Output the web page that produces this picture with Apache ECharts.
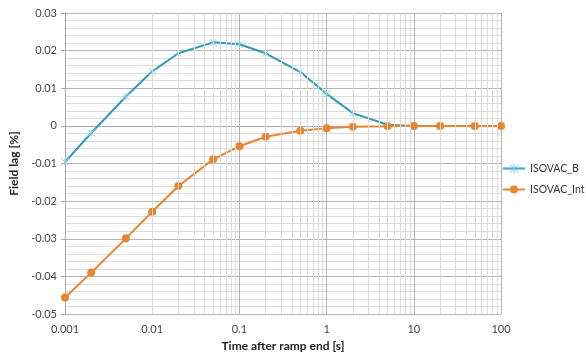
<!DOCTYPE html>
<html><head><meta charset="utf-8">
<script src="https://cdn.jsdelivr.net/npm/echarts@6/dist/echarts.min.js"></script>
<style>html,body{margin:0;padding:0;background:#fff}#c{width:586px;height:357px}</style>
</head><body><div id="c"></div>
<script>
const times = [0.001,0.002,0.005,0.01,0.02,0.05,0.1,0.2,0.5,1,2,5,10,20,50,100];
const isovacB = [-0.0096,-0.0019,0.0078,0.0145,0.0193,0.0222,0.0217,0.0193,0.0143,0.0085,0.0034,0.0003,0.0000,0.0000,0.0000,0.0000];
const isovacInt = [-0.0456,-0.0390,-0.0299,-0.0228,-0.0160,-0.0089,-0.0054,-0.0029,-0.0013,-0.0006,-0.0002,-0.0001,0.0000,0.0000,0.0000,0.0000];
const xMinorLines = [];
[0.001,0.01,0.1,1,10].forEach(d=>{for(let k=2;k<=9;k++) xMinorLines.push(+(d*k).toPrecision(3));});

const font = 'Lato, "Open Sans", sans-serif';
const starPath = 'path://M0,0L10,10M10,0L0,10M5,0L5,10';
const legendBPath = 'path://M0,4.2L22,4.2L22,5.8L0,5.8Z M7,1L15,9M15,1L7,9M11,0L11,10';
const chart = echarts.init(document.getElementById('c'));
chart.setOption({
  animation:false,
  grid:{left:63,right:85,top:13,bottom:42,containLabel:false},
  legend:{
    orient:'vertical', left:502, top:163, itemGap:10, itemWidth:22, itemHeight:10,
    padding:0,
    textStyle:{fontFamily:font,fontSize:10.5,color:'#333',overflow:'none',width:80},
    data:[
      {name:'ISOVAC_B',icon:legendBPath,itemStyle:{color:'#3399b5',borderColor:'#7cc7df',borderWidth:1}},
      {name:'ISOVAC_Int'}
    ]
  },
  xAxis:{
    type:'log', logBase:10, min:0.001, max:100,
    name:'Time after ramp end [s]', nameLocation:'middle', nameGap:26,
    nameTextStyle:{fontFamily:font,fontSize:12,fontWeight:'bold',color:'#222'},
    axisLine:{lineStyle:{color:'#a8a8a8'}},
    axisTick:{show:true,length:4,lineStyle:{color:'#a8a8a8'}},
    axisLabel:{fontFamily:font,fontSize:11,color:'#444',margin:10,
      formatter:v=>{const m={0.001:'0.001',0.01:'0.01',0.1:'0.1',1:'1',10:'10',100:'100'};return m[+v.toPrecision(3)]||'';}},
    splitLine:{show:true,lineStyle:{color:'#b4b4b4',width:1}}
  },
  yAxis:{
    type:'value', min:-0.05, max:0.03, interval:0.01,
    name:'Field lag [%]', nameLocation:'middle', nameGap:45,
    nameTextStyle:{fontFamily:font,fontSize:12,fontWeight:'bold',color:'#222'},
    axisLine:{show:true,lineStyle:{color:'#a8a8a8'}},
    axisTick:{show:true,length:4,lineStyle:{color:'#a8a8a8'}},
    axisLabel:{fontFamily:font,fontSize:11,color:'#444',margin:8,
      formatter:v=>{const r=Math.round(v*100)/100;return r===0?'0':r.toFixed(2);}},
    splitLine:{show:true,lineStyle:{color:'#b4b4b4',width:1}},
    minorTick:{show:false,splitNumber:5},
    minorSplitLine:{show:true,lineStyle:{color:'#dcdcdc',width:1}}
  },
  series:[
    {
      name:'minor', type:'line', data:[], silent:true, legendHoverLink:false,
      markLine:{silent:true,symbol:'none',label:{show:false},animation:false,
        lineStyle:{color:'#dcdcdc',width:1,type:'solid'},
        data:xMinorLines.map(v=>({xAxis:v}))},
      z:1
    },
    {
      name:'ISOVAC_B', type:'line', data:times.map((t,i)=>[t,isovacB[i]]),
      lineStyle:{color:'#3399b5',width:2},
      itemStyle:{color:'#9ad3e6',borderColor:'#8fd0e4',borderWidth:1},
      symbol:starPath, symbolSize:7, showSymbol:true, z:3
    },
    {
      name:'ISOVAC_Int', type:'line', data:times.map((t,i)=>[t,isovacInt[i]]),
      lineStyle:{color:'#e8852f',width:2},
      itemStyle:{color:'#e8852f'},
      symbol:'circle', symbolSize:8, z:4
    }
  ]
});
</script></body></html>
